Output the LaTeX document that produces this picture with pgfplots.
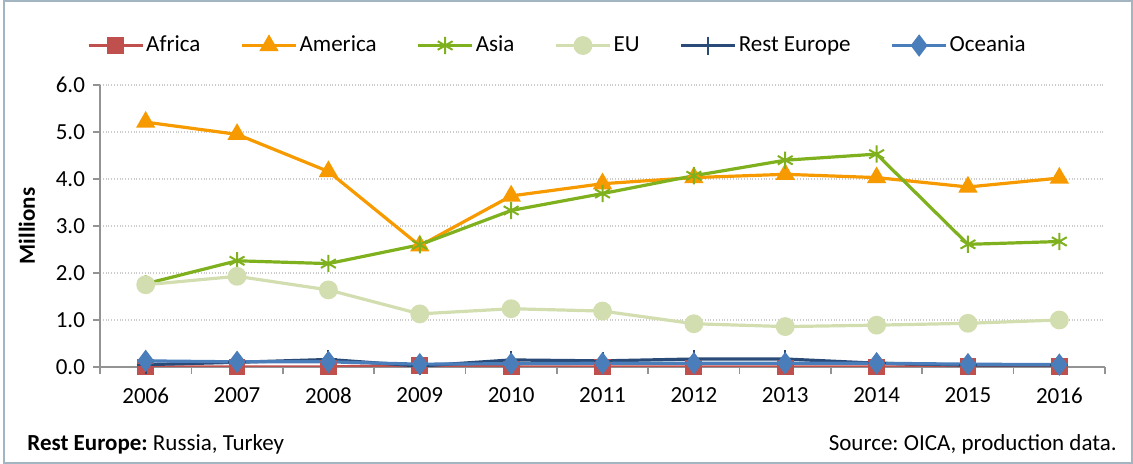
\documentclass[border=0pt]{standalone}
\usepackage{fontspec}
\setmainfont{Carlito}
\usepackage{pgfplots}
\pgfplotsset{compat=1.18}
\definecolor{cAfrica}{HTML}{C0504D}
\definecolor{cAmerica}{HTML}{F79A00}
\definecolor{cAsia}{HTML}{7FB11E}
\definecolor{cEU}{HTML}{D3DEB0}
\definecolor{cRest}{HTML}{2A4B78}
\definecolor{cOce}{HTML}{4A7EBB}
\definecolor{frame}{HTML}{A3B5C0}
\frenchspacing
\begin{document}
\fontsize{11.5}{13}\selectfont
\begin{tikzpicture}[x=1pt,y=1pt]
\useasboundingbox (0,0) rectangle (566.5,232);
\draw[frame, line width=1pt] (2,0.5) rectangle (566,231.5);
\begin{axis}[
  at={(50pt,48.5pt)}, anchor=south west,
  scale only axis, width=502.5pt, height=141pt,
  xmin=-0.5, xmax=10.5, ymin=0, ymax=6,
  axis x line*=bottom, axis y line*=left,
  axis line style={draw=gray!85, line width=0.8pt},
  xtick={0,...,10},
  xticklabels={2006,2007,2008,2009,2010,2011,2012,2013,2014,2015,2016},
  major x tick style={draw=none},
  minor xtick={-0.5,0.5,...,10.5},
  minor x tick style={draw=gray!85, line width=0.8pt},
  minor tick length=3.5pt,
  ytick={0,1,...,6},
  major tick length=3.5pt,
  major y tick style={draw=gray!85, line width=0.8pt},
  tick align=outside,
  yticklabel style={/pgf/number format/.cd, fixed, fixed zerofill, precision=1, assume math mode=true},
  ticklabel style={font=\fontsize{11.5}{13}\selectfont},
  xticklabel style={yshift=-3pt},
  ymajorgrids, major grid style={densely dotted, gray!40, line width=0.7pt},
  every axis plot/.append style={line width=1.6pt},
  legend columns=6,
  legend style={at={(0.455,1.14)}, anchor=center, draw=none, fill=none,
    font=\fontsize{11.5}{13}\selectfont,
    nodes={inner sep=1pt},
    /tikz/every even column/.append style={column sep=19pt}},
  legend image code/.code={\draw[mark repeat=2,mark phase=2] plot coordinates {(0pt,0pt)(13.5pt,0pt)(27pt,0pt)};},
]
\addplot[color=cAfrica, mark=square*, mark size=3.4pt, mark options={fill=cAfrica}] coordinates {
(0,0.0)(1,0.0)(2,0.0)(3,0.04)(4,0.0)(5,0.0)(6,0.0)(7,0.0)(8,0.0)(9,0.01)(10,0.01)};
\addlegendentry{Africa}
\addplot[color=cAmerica, mark=triangle*, mark size=4.0pt, mark options={fill=cAmerica}] coordinates {
(0,5.21)(1,4.95)(2,4.16)(3,2.58)(4,3.64)(5,3.90)(6,4.03)(7,4.10)(8,4.03)(9,3.83)(10,4.02)};
\addlegendentry{America}
\addplot[color=cAsia, mark=asterisk, mark size=4.3pt, mark options={line width=1pt}] coordinates {
(0,1.77)(1,2.26)(2,2.20)(3,2.60)(4,3.33)(5,3.69)(6,4.07)(7,4.40)(8,4.53)(9,2.61)(10,2.67)};
\addlegendentry{Asia}
\addplot[color=cEU, mark=*, mark size=3.9pt, mark options={fill=cEU}] coordinates {
(0,1.75)(1,1.93)(2,1.64)(3,1.13)(4,1.24)(5,1.19)(6,0.92)(7,0.86)(8,0.89)(9,0.93)(10,1.00)};
\addlegendentry{EU}
\addplot[color=cRest, mark=+, mark size=4.5pt, mark options={line width=1pt}] coordinates {
(0,0.05)(1,0.10)(2,0.16)(3,0.02)(4,0.15)(5,0.13)(6,0.17)(7,0.17)(8,0.08)(9,0.04)(10,0.04)};
\addlegendentry{Rest Europe}
\addplot[color=cOce, mark=diamond*, mark size=4.3pt, mark options={fill=cOce}] coordinates {
(0,0.13)(1,0.11)(2,0.11)(3,0.06)(4,0.07)(5,0.08)(6,0.08)(7,0.08)(8,0.08)(9,0.06)(10,0.05)};
\addlegendentry{Oceania}
\end{axis}
\node[rotate=90, font=\bfseries\fontsize{11.5}{13}\selectfont] at (13.5,119) {Millions};
\node[anchor=west, inner sep=0pt] at (13.5,10) {\textbf{Rest Europe:} Russia, Turkey};
\node[anchor=east, inner sep=0pt] at (558.5,10) {Source: OICA, production data.};
\end{tikzpicture}
\end{document}
